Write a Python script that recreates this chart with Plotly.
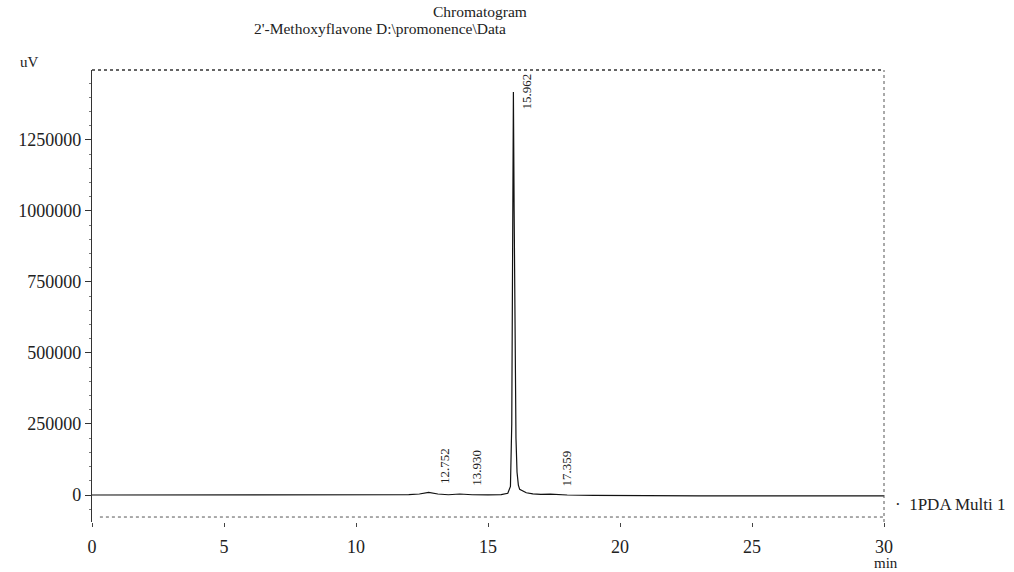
import plotly.graph_objects as go

# ---- data ----
time_min = [0, 1, 2, 3, 4, 5, 6, 7, 8, 9, 10, 11, 12, 12.4, 12.752, 13.1, 13.5,
            13.930, 14.4, 15.0, 15.5, 15.75, 15.85, 15.9, 15.93, 15.962, 15.99,
            16.02, 16.06, 16.1, 16.15, 16.2, 16.3, 16.45, 16.7, 17.0, 17.359,
            17.7, 18, 19, 20, 21, 22, 23, 24, 25, 26, 27, 28, 29, 30]
signal_uv = [0, 0, -500, 0, 0, -500, 0, 0, -500, 0, 0, 500, 1500, 3500, 9000,
             3500, 1000, 3500, 1000, 500, 1500, 6000, 30000, 250000, 900000,
             1419000, 1000000, 500000, 200000, 80000, 35000, 20000, 14000,
             8000, 4000, 2000, 3000, 1000, 0, -1000, -2000, -2500, -3000,
             -3000, -3000, -3000, -3000, -3000, -3000, -3000, -3000]

peak_times = [12.752, 13.930, 15.962, 17.359]
peak_heights = [9000, 3500, 1419000, 3000]
peak_labels = ["12.752", "13.930", "15.962", "17.359"]

y_ticks = [0, 250000, 500000, 750000, 1000000, 1250000]
x_ticks = [0, 5, 10, 15, 20, 25, 30]

FONT = "Liberation Serif"

fig = go.Figure()
fig.add_trace(go.Scatter(x=time_min, y=signal_uv, mode="lines",
                         line=dict(color="#111111", width=1.2),
                         hoverinfo="skip", showlegend=False))

annotations = []
for t, h, lab in zip(peak_times, peak_heights, peak_labels):
    if h > 1000000:
        annotations.append(dict(x=t, y=1, xref="x", yref="paper", text=lab,
                                textangle=-90, showarrow=False, xanchor="center",
                                yanchor="top", xshift=13, yshift=-1,
                                font=dict(family=FONT, size=13, color="#222")))
    else:
        annotations.append(dict(x=t, y=h, xref="x", yref="y", text=lab,
                                textangle=-90, showarrow=False, xanchor="center",
                                yanchor="bottom", xshift=16, yshift=6,
                                font=dict(family=FONT, size=13, color="#222")))

annotations += [
    dict(x=0.49, y=1.0, xref="paper", yref="paper", yshift=59,
         text="Chromatogram", showarrow=False, xanchor="center", yanchor="middle",
         font=dict(family=FONT, size=15.5, color="#222")),
    dict(x=0.364, y=1.0, xref="paper", yref="paper", yshift=42,
         text="2'-Methoxyflavone D:\\promonence\\Data", showarrow=False,
         xanchor="center", yanchor="middle",
         font=dict(family=FONT, size=15.5, color="#222")),
    dict(x=0, y=1.0, xref="paper", yref="paper", xshift=-74, yshift=8,
         text="uV", showarrow=False, xanchor="left", yanchor="middle",
         font=dict(family=FONT, size=15, color="#222")),
    dict(x=1, y=0, xref="paper", yref="paper", xshift=2, yshift=-41,
         text="min", showarrow=False, xanchor="center", yanchor="middle",
         font=dict(family=FONT, size=15, color="#222")),
    dict(x=1, y=0.038, xref="paper", yref="paper", xshift=9,
         text="·  1PDA Multi 1", showarrow=False, xanchor="left", yanchor="middle",
         font=dict(family=FONT, size=17, color="#222")),
]

fig.update_layout(
    width=1014, height=572,
    margin=dict(l=92, r=130, t=70, b=50),
    paper_bgcolor="white", plot_bgcolor="white",
    font=dict(family=FONT, size=18, color="#222"),
    xaxis=dict(range=[0, 30], tickvals=x_ticks, ticks="outside", ticklen=4,
               tickcolor="#444", showline=False, showgrid=False, zeroline=False,
               ticklabelstandoff=4, tickfont=dict(size=18)),
    yaxis=dict(range=[-95000, 1496000], tickvals=y_ticks, tickformat="d",
               ticks="outside", ticklen=6, tickcolor="#333", showline=True,
               linecolor="#333", linewidth=1.2, showgrid=False, zeroline=False,
               tickfont=dict(size=18),
               minor=dict(dtick=50000, ticks="outside", ticklen=2,
                          tickcolor="#777")),
    showlegend=False,
    annotations=annotations,
)

# frame: dotted top, dashed right and bottom lines
fig.add_shape(type="line", xref="paper", yref="paper", x0=0, x1=1, y0=1, y1=1,
              line=dict(color="#333", width=1.3, dash="dot"))
fig.add_shape(type="line", xref="paper", yref="paper", x0=1, x1=1, y0=0, y1=1,
              line=dict(color="#555", width=1, dash="dot"))
fig.add_shape(type="line", xref="paper", yref="paper", x0=0.01, x1=1,
              y0=0.011, y1=0.011, line=dict(color="#555", width=1, dash="dot"))

fig.write_html("out.html", config={"displayModeBar": False},
               post_script="document.body.style.margin='0';document.body.style.padding='0';")
